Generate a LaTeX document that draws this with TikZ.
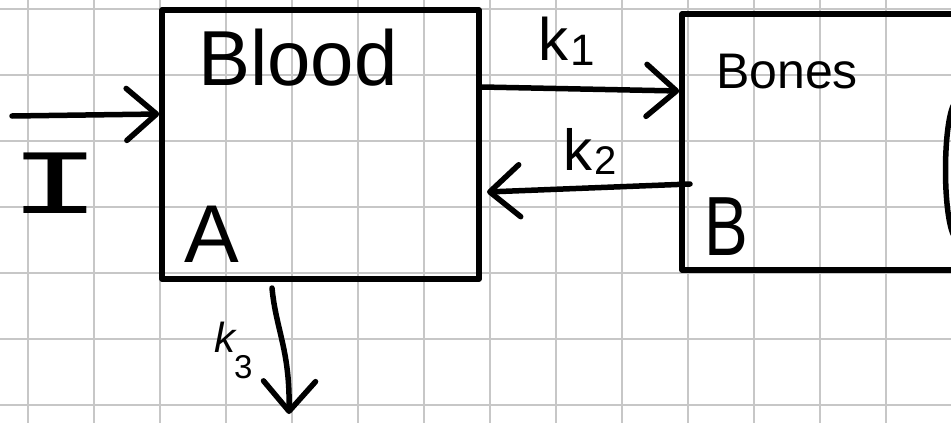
\documentclass[tikz,border=0pt]{standalone}
\usepackage{fontspec}
\setmainfont{Liberation Sans}
\newfontfamily\monohand{Liberation Mono}
\usetikzlibrary{arrows.meta}
\tikzset{
  gridline/.style={line width=1.8pt, draw=black!22},
  ink/.style={line width=5.5pt, line cap=round, line join=round, draw=black},
  boxnode/.style={ink, draw, rectangle, inner sep=0pt, fill=none},
  barb/.style={-{Straight Barb[length=30pt,width=52pt,line width=5.5pt,round]}},
  lbl/.style={inner sep=0pt, anchor=base west, text=black},
}
\begin{document}
\begin{tikzpicture}[x=1pt,y=-1pt]
\useasboundingbox (0,0) rectangle (951,423);
\fill[white] (0,0) rectangle (951,423);
% grid
\foreach \gx in {28,94,...,952} { \draw[gridline] (\gx,0) -- (\gx,423); }
\foreach \gy in {9,75,...,424} { \draw[gridline] (0,\gy) -- (951,\gy); }
% boxes
\node[boxnode, minimum width=317pt, minimum height=269pt] (blood) at (320.5,144.5) {};
\node[boxnode, minimum width=340pt, minimum height=256pt] (bones) at (852,142) {};
% partial shape at right edge
\draw[ink] (953,106) .. controls (943,130) and (943,210) .. (953,234);
% labels
\node[lbl, font=\fontsize{78}{78}\selectfont] (bloodtxt) at (198,85) {Blood};
\node[lbl, font=\fontsize{82}{82}\selectfont] (atxt) at (184,262) {A};
\node[lbl, font=\fontsize{50}{50}\selectfont] (bonestxt) at (716,88) {Bones};
\node[lbl, font=\fontsize{84}{84}\selectfont, xscale=0.78] (btxt) at (704,255) {B};
\node[inner sep=0pt, anchor=base, font=\monohand\fontsize{92}{92}\selectfont, xscale=1.7] (itxt) at (55,213) {I};
\node[lbl, font=\fontsize{60}{60}\selectfont] (k1txt) at (538,60) {k\kern2pt\lower5pt\hbox{\fontsize{44}{44}\selectfont 1}};
\node[lbl, font=\fontsize{58}{58}\selectfont] (k2txt) at (563,170) {k\kern2pt\lower4pt\hbox{\fontsize{40}{40}\selectfont 2}};
\node[lbl, font=\fontsize{42}{42}\selectfont\itshape] (k3txt) at (214,352) {k\kern-1pt\lower26pt\hbox{\upshape\fontsize{33}{33}\selectfont 3}};
% connectors
\coordinate (inStart) at (12,116);
\coordinate (bloodIn) at (blood.west |- 0,114);
\draw[ink, barb] (inStart) -- (bloodIn);
\coordinate (k1s) at (blood.east |- 0,87);
\coordinate (k1e) at (bones.west |- 0,91);
\draw[ink, barb] (k1s) -- (k1e);
\coordinate (k2s) at (690,184);
\coordinate (k2e) at (487,192);
\draw[ink, barb] (k2s) -- (k2e);
\coordinate (k3s) at (272,288);
\coordinate (k3e) at (289,414);
\draw[ink, barb] (k3s) .. controls (276,330) and (290,350) .. (k3e);
\end{tikzpicture}
\end{document}
